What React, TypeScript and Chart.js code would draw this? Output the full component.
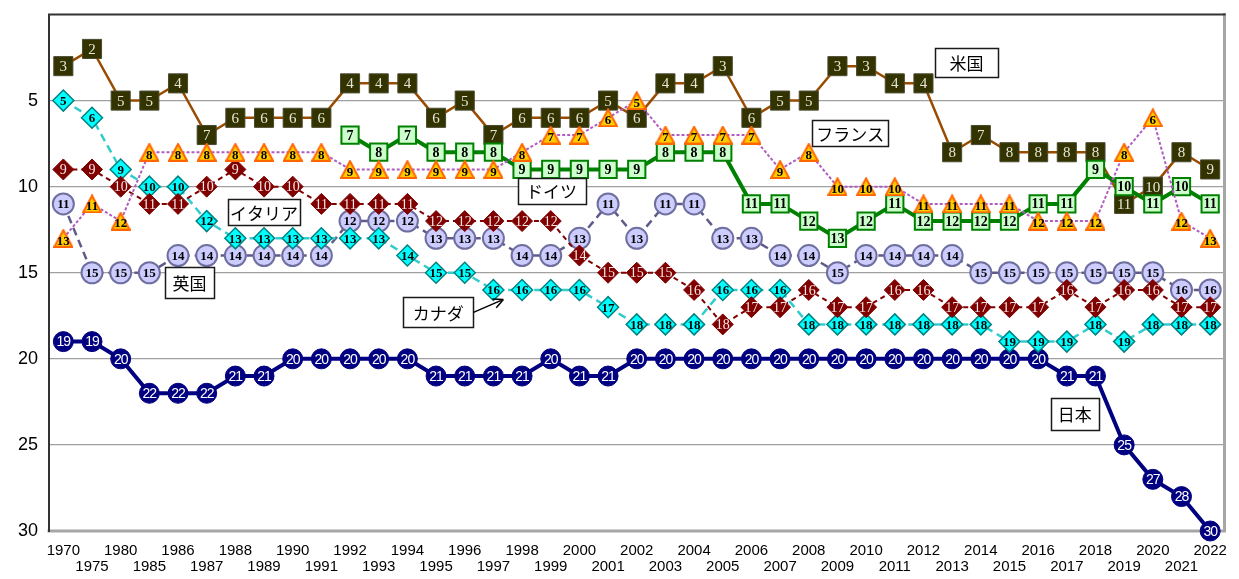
import { useEffect, useRef } from 'react';
import { Chart, registerables } from 'chart.js';

Chart.register(...registerables);

// ---------- data ----------
const categories = [
  '1970', '1975', '1980', '1985', '1986', '1987', '1988', '1989', '1990', '1991',
  '1992', '1993', '1994', '1995', '1996', '1997', '1998', '1999', '2000', '2001',
  '2002', '2003', '2004', '2005', '2006', '2007', '2008', '2009', '2010', '2011',
  '2012', '2013', '2014', '2015', '2016', '2017', '2018', '2019', '2020', '2021', '2022',
];

const usRank = [3, 2, 5, 5, 4, 7, 6, 6, 6, 6, 4, 4, 4, 6, 5, 7, 6, 6, 6, 5, 6, 4, 4, 3, 6, 5, 5, 3, 3, 4, 4, 8, 7, 8, 8, 8, 8, 11, 10, 8, 9];
const germanyRank = [null, null, null, null, null, null, null, null, null, null, 7, 8, 7, 8, 8, 8, 9, 9, 9, 9, 9, 8, 8, 8, 11, 11, 12, 13, 12, 11, 12, 12, 12, 12, 11, 11, 9, 10, 11, 10, 11];
const franceRank = [13, 11, 12, 8, 8, 8, 8, 8, 8, 8, 9, 9, 9, 9, 9, 9, 8, 7, 7, 6, 5, 7, 7, 7, 7, 9, 8, 10, 10, 10, 11, 11, 11, 11, 12, 12, 12, 8, 6, 12, 13];
const italyRank = [9, 9, 10, 11, 11, 10, 9, 10, 10, 11, 11, 11, 11, 12, 12, 12, 12, 12, 14, 15, 15, 15, 16, 18, 17, 17, 16, 17, 17, 16, 16, 17, 17, 17, 17, 16, 17, 16, 16, 17, 17];
const canadaRank = [5, 6, 9, 10, 10, 12, 13, 13, 13, 13, 13, 13, 14, 15, 15, 16, 16, 16, 16, 17, 18, 18, 18, 16, 16, 16, 18, 18, 18, 18, 18, 18, 18, 19, 19, 19, 18, 19, 18, 18, 18];
const ukRank = [11, 15, 15, 15, 14, 14, 14, 14, 14, 14, 12, 12, 12, 13, 13, 13, 14, 14, 13, 11, 13, 11, 11, 13, 13, 14, 14, 15, 14, 14, 14, 14, 15, 15, 15, 15, 15, 15, 15, 16, 16];
const japanRank = [19, 19, 20, 22, 22, 22, 21, 21, 20, 20, 20, 20, 20, 21, 21, 21, 21, 20, 21, 21, 20, 20, 20, 20, 20, 20, 20, 20, 20, 20, 20, 20, 20, 20, 20, 21, 21, 25, 27, 28, 30];

const yTicks = [5, 10, 15, 20, 25, 30];

const countryNames = ['米国', 'フランス', 'ドイツ', 'イタリア', '英国', 'カナダ', '日本'];

// ---------- layout of name boxes (category index, rank value) ----------
const boxLayout = [
  { x: 31.5, y: 2.8, w: 63, h: 29 },
  { x: 27.45, y: 6.9, w: 76, h: 26 },
  { x: 17.03, y: 10.25, w: 68, h: 26 },
  { x: 7.0, y: 11.5, w: 72, h: 26 },
  { x: 4.4, y: 15.55, w: 49, h: 31 },
  { x: 13.08, y: 17.3, w: 70, h: 30 },
  { x: 35.28, y: 23.2, w: 48, h: 32 },
];
const canadaArrowTip = { x: 15.35, y: 16.55 };

function makeTriangle(w: number, h: number, fill: string, stroke: string, lw: number) {
  const c = document.createElement('canvas');
  c.width = w;
  c.height = h;
  const g = c.getContext('2d')!;
  g.beginPath();
  g.moveTo(w / 2, lw * 0.6);
  g.lineTo(w - lw / 2, h - lw / 2);
  g.lineTo(lw / 2, h - lw / 2);
  g.closePath();
  g.fillStyle = fill;
  g.fill();
  g.lineWidth = lw;
  g.strokeStyle = stroke;
  g.lineJoin = 'miter';
  g.stroke();
  return c;
}

const pointLabelPlugin = {
  id: 'pointLabelPlugin',
  afterDatasetDraw(chart: any, args: any) {
    const ds = chart.data.datasets[args.index];
    const ctx = chart.ctx;
    ctx.save();
    ctx.font = ds.labelFont;
    ctx.fillStyle = ds.labelColor;
    ctx.textAlign = 'center';
    ctx.textBaseline = 'middle';
    if ('letterSpacing' in ctx) (ctx as any).letterSpacing = ds.labelSpacing || '0px';
    args.meta.data.forEach((pt: any, i: number) => {
      const v = ds.data[i];
      if (v === null || v === undefined) return;
      ctx.fillText(String(v), pt.x, pt.y + (ds.labelDy || 0));
    });
    ctx.restore();
  },
};

const framePlugin = {
  id: 'framePlugin',
  beforeDatasetsDraw(chart: any) {
    const { ctx, chartArea: a } = chart;
    ctx.save();
    ctx.lineCap = 'square';
    ctx.strokeStyle = '#a6a6a6';
    ctx.lineWidth = 3;
    ctx.beginPath();
    ctx.moveTo(a.right, a.top);
    ctx.lineTo(a.right, a.bottom);
    ctx.lineTo(a.left, a.bottom);
    ctx.stroke();
    ctx.strokeStyle = '#333333';
    ctx.lineWidth = 2;
    ctx.beginPath();
    ctx.moveTo(a.left, a.bottom);
    ctx.lineTo(a.left, a.top);
    ctx.lineTo(a.right, a.top);
    ctx.stroke();
    ctx.restore();
  },
};

const namePlugin = {
  id: 'namePlugin',
  afterDraw(chart: any) {
    const { ctx } = chart;
    const xs = chart.scales.x;
    const ys = chart.scales.y;
    ctx.save();
    ctx.font = '17px "Noto Sans CJK JP"';
    ctx.textAlign = 'center';
    ctx.textBaseline = 'middle';
    countryNames.forEach((name, i) => {
      const b = boxLayout[i];
      const cx = xs.getPixelForValue(b.x);
      const cy = ys.getPixelForValue(b.y);
      const l = Math.round(cx - b.w / 2) + 0.5;
      const t = Math.round(cy - b.h / 2) + 0.5;
      ctx.fillStyle = '#ffffff';
      ctx.fillRect(l, t, b.w, b.h);
      ctx.strokeStyle = '#1a1a1a';
      ctx.lineWidth = 1.5;
      ctx.strokeRect(l, t, b.w, b.h);
      ctx.fillStyle = '#000000';
      ctx.fillText(name, cx, cy + 1);
      if (name === 'カナダ') {
        const sx = l + b.w;
        const sy = cy;
        const tx = xs.getPixelForValue(canadaArrowTip.x);
        const ty = ys.getPixelForValue(canadaArrowTip.y);
        ctx.strokeStyle = '#000000';
        ctx.lineWidth = 1.5;
        ctx.beginPath();
        ctx.moveTo(sx, sy);
        ctx.lineTo(tx, ty);
        const ang = Math.atan2(ty - sy, tx - sx);
        const hl = 11;
        ctx.moveTo(tx, ty);
        ctx.lineTo(tx - hl * Math.cos(ang - 0.45), ty - hl * Math.sin(ang - 0.45));
        ctx.moveTo(tx, ty);
        ctx.lineTo(tx - hl * Math.cos(ang + 0.45), ty - hl * Math.sin(ang + 0.45));
        ctx.stroke();
      }
    });
    ctx.restore();
  },
};

export default function App() {
  const canvasRef = useRef<HTMLCanvasElement | null>(null);

  useEffect(() => {
    document.body.style.margin = '0';
    const canvas = canvasRef.current;
    if (!canvas) return;
    const tri = makeTriangle(20, 19, '#ffcc00', '#ff6600', 2);

    const serifBold = (s: number) => `bold ${s}px "Liberation Serif"`;

    const datasets: any[] = [
      {
        label: '日本',
        data: japanRank,
        borderColor: '#000080',
        borderWidth: 4,
        pointStyle: 'circle',
        pointRadius: 10,
        pointBackgroundColor: '#000080',
        pointBorderColor: '#000080',
        pointBorderWidth: 1,
        labelFont: '14px "Liberation Sans"',
        labelSpacing: '-1px',
        labelColor: '#ffffff',
        labelDy: 1,
        order: 7,
      },
      {
        label: '英国',
        data: ukRank,
        borderColor: '#605a8a',
        borderWidth: 2.5,
        borderDash: [8, 5],
        pointStyle: 'circle',
        pointRadius: 10.5,
        pointBackgroundColor: '#ccccff',
        pointBorderColor: '#6f6f9f',
        pointBorderWidth: 2,
        labelFont: serifBold(13),
        labelColor: '#000000',
        labelDy: 1,
        order: 6,
      },
      {
        label: 'カナダ',
        data: canadaRank,
        borderColor: '#33cccc',
        borderWidth: 2.5,
        borderDash: [8, 5],
        pointStyle: 'rectRot',
        pointRadius: 10.5,
        pointBackgroundColor: '#00ffff',
        pointBorderColor: '#008080',
        pointBorderWidth: 1.5,
        labelFont: serifBold(13),
        labelColor: '#000000',
        labelDy: 1,
        order: 5,
      },
      {
        label: 'イタリア',
        data: italyRank,
        borderColor: '#800000',
        borderWidth: 2,
        borderDash: [5, 4],
        pointStyle: 'rectRot',
        pointRadius: 10.5,
        pointBackgroundColor: '#800000',
        pointBorderColor: '#800000',
        pointBorderWidth: 1,
        labelFont: '14px "Liberation Serif"',
        labelColor: '#f4e8e8',
        labelDy: 1,
        order: 4,
      },
      {
        label: '米国',
        data: usRank,
        borderColor: '#994c00',
        borderWidth: 2.5,
        pointStyle: 'rect',
        pointRadius: 13.5,
        pointBackgroundColor: '#333300',
        pointBorderColor: '#4a4a30',
        pointBorderWidth: 1,
        labelFont: '15px "Liberation Serif"',
        labelColor: '#e6e6d8',
        labelDy: 1,
        order: 3,
      },
      {
        label: 'ドイツ',
        data: germanyRank,
        borderColor: '#008000',
        borderWidth: 4,
        pointStyle: 'rect',
        pointRadius: 12.2,
        pointBackgroundColor: '#ccffcc',
        pointBorderColor: '#008000',
        pointBorderWidth: 2,
        labelFont: serifBold(14),
        labelColor: '#000000',
        labelDy: 1,
        order: 2,
      },
      {
        label: 'フランス',
        data: franceRank,
        borderColor: '#b05cc0',
        borderWidth: 2,
        borderDash: [3, 2],
        pointStyle: tri,
        pointRadius: 10,
        labelFont: serifBold(13),
        labelColor: '#000000',
        labelDy: 3,
        order: 1,
      },
    ];

    datasets.forEach((d) => {
      d.fill = false;
      d.tension = 0;
      d.clip = false;
      d.spanGaps = false;
      d.pointHoverRadius = d.pointRadius;
    });

    const tickFont = '"Liberation Sans", Arial, sans-serif';

    const chart = new Chart(canvas, {
      type: 'line',
      data: { labels: categories, datasets },
      options: {
        responsive: false,
        animation: false,
        events: [],
        layout: { padding: { top: 14, right: 7, left: 0, bottom: 0 } },
        plugins: {
          legend: { display: false },
          tooltip: { enabled: false },
          title: { display: false },
        },
        scales: {
          x: {
            type: 'category',
            offset: true,
            grid: { display: false, drawTicks: false },
            border: { display: false },
            afterFit: (s: any) => {
              s.height = 48;
              s.paddingLeft = 0;
              s.paddingRight = 0;
            },
            ticks: {
              autoSkip: false,
              maxRotation: 0,
              minRotation: 0,
              padding: 12,
              color: '#000000',
              font: { family: tickFont, size: 15, lineHeight: '16px' },
              callback: (_v: any, i: number) => (i % 2 === 0 ? categories[i] : ['', categories[i]]),
            },
          },
          y: {
            type: 'linear',
            reverse: true,
            min: 0,
            max: 30,
            afterFit: (s: any) => {
              s.width = 49;
              s.paddingTop = 0;
              s.paddingBottom = 0;
            },
            afterBuildTicks: (s: any) => {
              s.ticks = [0, ...yTicks].map((v) => ({ value: v }));
            },
            grid: {
              drawTicks: false,
              color: (c: any) => (c.tick && (c.tick.value === 0 || c.tick.value === 30) ? 'rgba(0,0,0,0)' : '#a0a0a0'),
              lineWidth: 1.2,
            },
            border: { display: false },
            ticks: {
              padding: 11,
              color: '#000000',
              font: { family: tickFont, size: 18 },
              callback: (v: any) => (v === 0 ? '' : String(v)),
            },
          },
        },
      },
      plugins: [framePlugin, pointLabelPlugin, namePlugin],
    } as any);

    return () => chart.destroy();
  }, []);

  return (
    <div style={{ width: 1239, height: 579 }}>
      <canvas ref={canvasRef} width={1239} height={579} />
    </div>
  );
}
